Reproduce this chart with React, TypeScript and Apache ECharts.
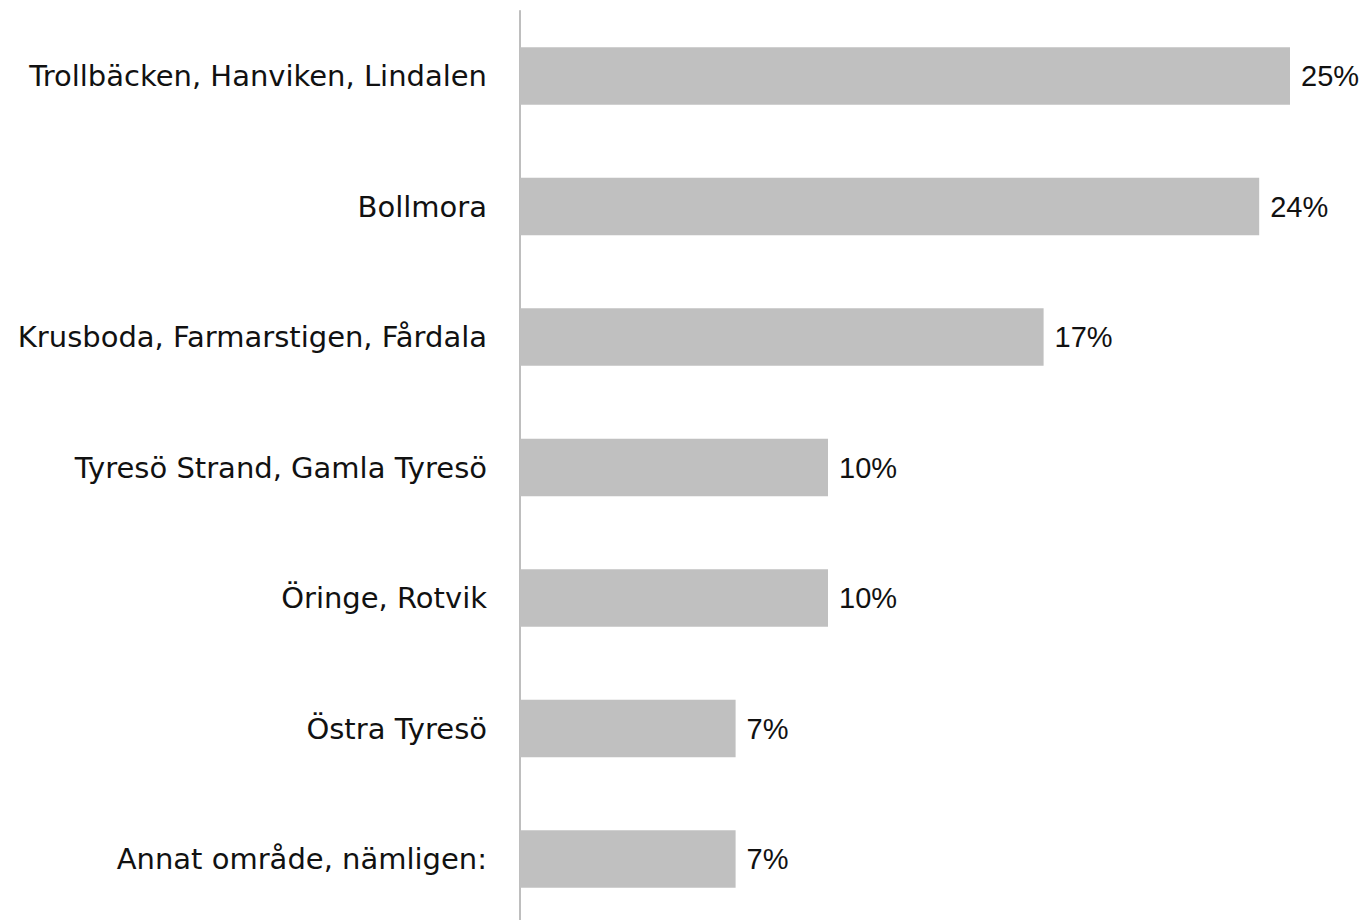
import React, { useEffect, useRef } from "react";
import * as echarts from "echarts";

const categories = [
  "Trollbäcken, Hanviken, Lindalen",
  "Bollmora",
  "Krusboda, Farmarstigen, Fårdala",
  "Tyresö Strand, Gamla Tyresö",
  "Öringe, Rotvik",
  "Östra Tyresö",
  "Annat område, nämligen:",
];
const values = [25, 24, 17, 10, 10, 7, 7];

export default function App() {
  const ref = useRef<HTMLDivElement>(null);
  useEffect(() => {
    const chart = echarts.init(ref.current!, null, { renderer: "svg" });
    chart.setOption({
      animation: false,
      grid: { left: 520, width: 770, top: 10.75, height: 913.5, containLabel: false },
      xAxis: {
        type: "value",
        min: 0,
        max: 25,
        show: false,
      },
      yAxis: {
        type: "category",
        inverse: true,
        data: categories,
        axisLine: { show: true, lineStyle: { color: "#a8a8a8", width: 1.5 } },
        axisTick: { show: false },
        axisLabel: {
          color: "#111",
          fontFamily: "DejaVu Sans",
          fontSize: 29,
          margin: 33,
        },
      },
      series: [
        {
          type: "bar",
          data: values,
          barWidth: 57.5,
          itemStyle: { color: "#c0c0c0" },
          label: {
            show: true,
            position: "right",
            distance: 11,
            formatter: "{c}%",
            color: "#111",
            fontFamily: "Liberation Sans",
            fontSize: 29,
          },
        },
      ],
    });
    return () => chart.dispose();
  }, []);
  return (
    <div
      style={{ position: "fixed", left: 0, top: 0, width: 1364, height: 920, overflow: "hidden", background: "#fff" }}
    >
      <div ref={ref} style={{ width: 1364, height: 940 }} />
    </div>
  );
}
